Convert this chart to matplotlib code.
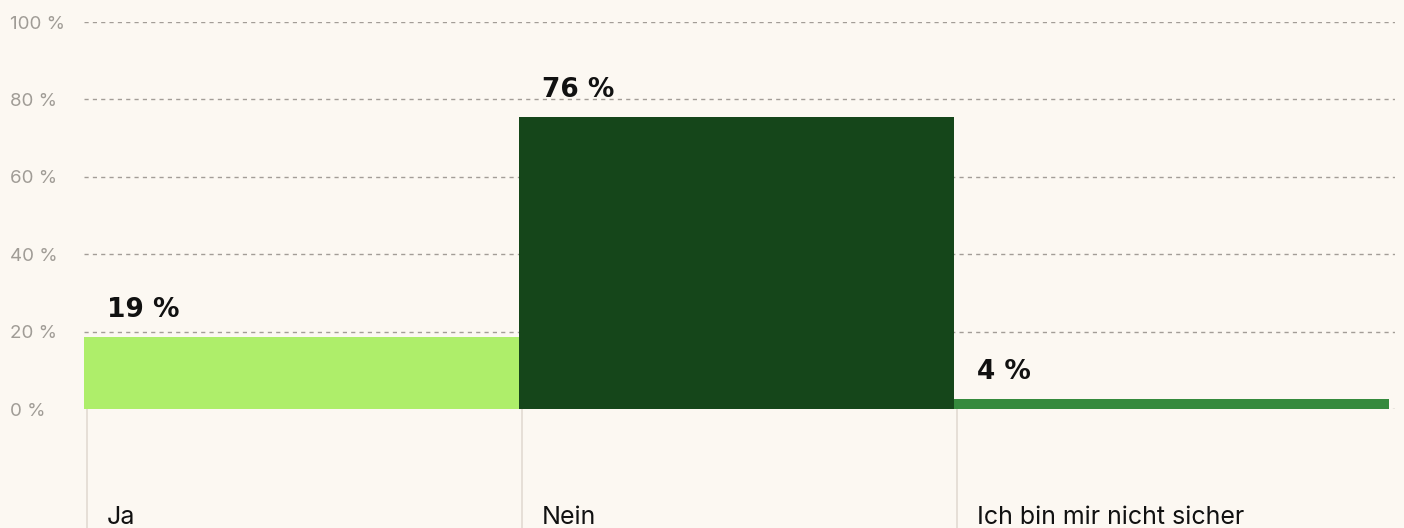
import matplotlib.pyplot as plt

categories = ['Ja', 'Nein', 'Ich bin mir nicht sicher']
values = [18.5, 75.5, 2.6]
value_labels = ['19 %', '76 %', '4 %']
bar_colors = ['#AEEE6A', '#15461A', '#358A3D']
yticks = [0, 20, 40, 60, 80, 100]
ytick_labels = ['0 %', '20 %', '40 %', '60 %', '80 %', '100 %']

bg = '#FCF8F2'

fig = plt.figure(figsize=(14.04, 5.28), dpi=100, facecolor=bg)
ax = fig.add_axes([84 / 1404, 119 / 528, 1311 / 1404, 387 / 528], facecolor=bg)

x = list(range(len(categories)))
ax.bar(x, values, width=1.0, color=bar_colors, zorder=2)

ax.set_xlim(-0.5, 2.5 + 6 / 435)
ax.set_ylim(0, 100)

ax.set_yticks(yticks)
ax.set_yticklabels(ytick_labels, fontsize=13.5, color='#A09C96', family='Inter')
for lab in ax.get_yticklabels():
    lab.set_horizontalalignment('left')
ax.tick_params(axis='y', length=0, pad=53)
ax.set_xticks([])

ax.grid(axis='y', color='#A39D97', linestyle=(0, (3, 3)), linewidth=1, zorder=1)
for s in ax.spines.values():
    s.set_visible(False)

off = 23 / 435
for i, (v, lbl, cat) in enumerate(zip(values, value_labels, categories)):
    left = i - 0.5
    ax.plot([left + 3 / 435, left + 3 / 435], [0, -31], color='#E2DBD2',
            linewidth=1.2, clip_on=False, zorder=1)
    ax.text(left + off, v + 5.2, lbl, fontsize=19, fontweight='bold',
            family='DejaVu Sans', color='#111111', va='baseline', ha='left')
    ax.text(left + off, -29.8, cat, fontsize=18, family='Inter',
            color='#111111', va='baseline', ha='left', clip_on=False)

plt.savefig('out.png', dpi=100, facecolor=bg)
